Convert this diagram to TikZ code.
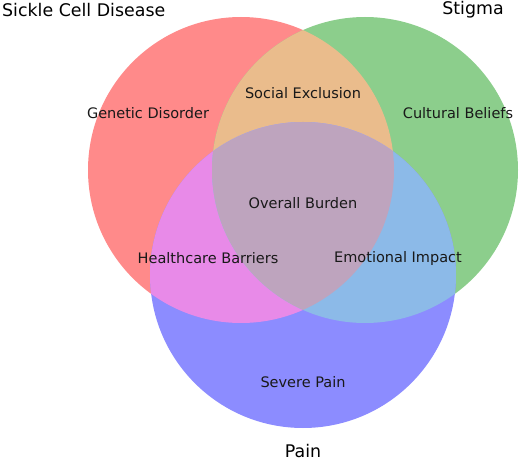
\documentclass[tikz,border=0pt]{standalone}
\usepackage{fontspec}
\setmainfont{DejaVu Sans}
\begin{document}
\begin{tikzpicture}[x=1pt,y=-1pt,
  setlabel/.style={font=\fontsize{17.4}{20}\selectfont, text=black, inner sep=0pt},
  reglabel/.style={font=\fontsize{14.5}{17}\selectfont, text=black!90, inner sep=0pt}]
\definecolor{cR}{HTML}{FF8A8A}
\definecolor{cG}{HTML}{8CCE8C}
\definecolor{cB}{HTML}{8C8CFF}
\definecolor{cRG}{HTML}{EABC8C}
\definecolor{cRB}{HTML}{E88AE8}
\definecolor{cGB}{HTML}{8CBAE8}
\definecolor{cRGB}{HTML}{BEA4BE}
\useasboundingbox (0,0) rectangle (520,460);
\def\R{153}
\coordinate (cr) at (241,170);
\coordinate (cg) at (365,170);
\coordinate (cb) at (303,275);
\fill[cR] (cr) circle[radius=\R];
\fill[cG] (cg) circle[radius=\R];
\fill[cB] (cb) circle[radius=\R];
\begin{scope}
  \clip (cr) circle[radius=\R];
  \fill[cRG] (cg) circle[radius=\R];
  \fill[cRB] (cb) circle[radius=\R];
\end{scope}
\begin{scope}
  \clip (cg) circle[radius=\R];
  \fill[cGB] (cb) circle[radius=\R];
\end{scope}
\begin{scope}
  \clip (cr) circle[radius=\R];
  \clip (cg) circle[radius=\R];
  \fill[cRGB] (cb) circle[radius=\R];
\end{scope}
\node[setlabel, anchor=west] (sA) at (2,10) {Sickle Cell Disease};
\node[setlabel] (sB) at (473,10) {Stigma};
\node[setlabel] (sC) at (303,451) {Pain};
\node[reglabel] (r100) at (148,113) {Genetic Disorder};
\node[reglabel] (r110) at (303,93) {Social Exclusion};
\node[reglabel] (r010) at (458,113) {Cultural Beliefs};
\node[reglabel] (r111) at (303,203) {Overall Burden};
\node[reglabel] (r101) at (208,258) {Healthcare Barriers};
\node[reglabel] (r011) at (398,258) {Emotional Impact};
\node[reglabel] (r001) at (303,382) {Severe Pain};
\end{tikzpicture}
\end{document}
